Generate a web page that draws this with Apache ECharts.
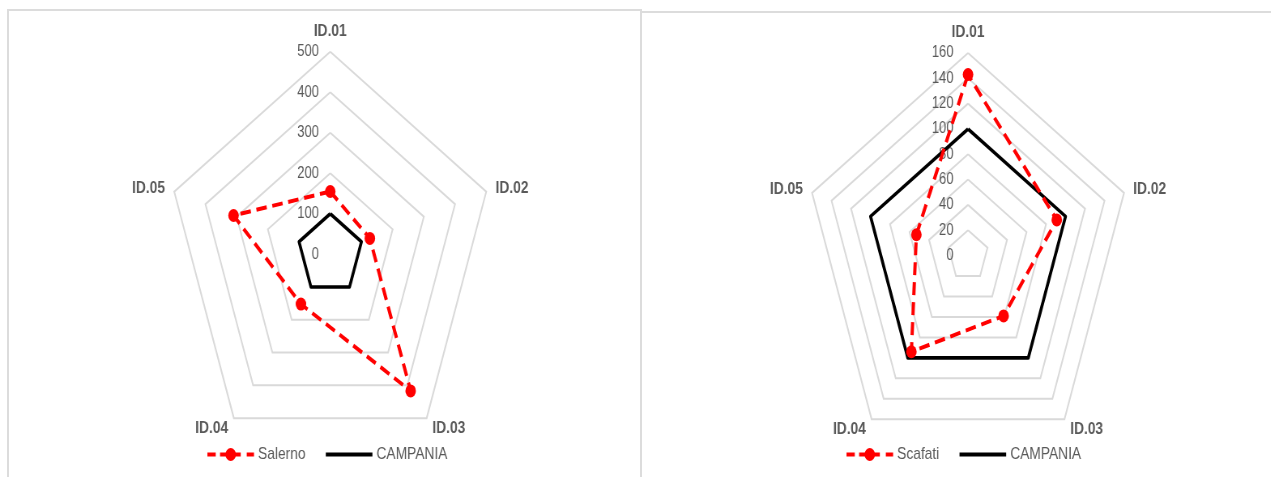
<!DOCTYPE html>
<html>
<head>
<meta charset="utf-8">
<script src="https://cdn.jsdelivr.net/npm/echarts@6/dist/echarts.min.js"></script>
<style>
  html, body { margin: 0; padding: 0; background: #fff; overflow: hidden; }
  #wrap { position: relative; width: 1271px; height: 477px; overflow: hidden; }
  .panel { position: absolute; border: 2px solid #dcdcdc; box-sizing: border-box; }
  /* the radar plates are drawn wide, then condensed horizontally */
  #chart { position: absolute; left: 0; top: 0; width: 1569px; height: 477px;
           transform: scaleX(0.81); transform-origin: 0 0; }
</style>
</head>
<body>
<div id="wrap">
  <div class="panel" style="left:7px;top:9px;width:635px;height:490px;"></div>
  <div class="panel" style="left:640px;top:11px;width:650px;height:490px;"></div>
  <div id="chart"></div>
</div>
<script>
// Indicator categories and values
const categories = ['ID.01', 'ID.02', 'ID.03', 'ID.04', 'ID.05'];
const salerno  = [155, 127, 417, 152, 310];
const scafati  = [143, 91, 59, 94, 53];
const campania = [100, 100, 100, 100, 100];

// Radial scales
const leftMax = 500,  leftStep = 100;
const rightMax = 160, rightStep = 20;

// ECharts lays indicators out counter-clockwise; walk them clockwise instead
const order = [0, 4, 3, 2, 1];
const cw = arr => order.map(i => arr[i]);

const FONT = 'Liberation Sans';
const GREY = '#595959';
const RED = '#ff0000';

function radarBox(center, max, step, labelMargin) {
  return {
    center: center,
    radius: 202.5,
    startAngle: 90,
    shape: 'polygon',
    splitNumber: max / step,
    indicator: order.map((i, k) => k === 0
      ? { name: categories[i], min: 0, max: max }
      : { name: categories[i], min: 0, max: max, axisLabel: { show: false } }),
    axisName: { color: GREY, fontWeight: 'bold', fontSize: 17, fontFamily: FONT },
    nameGap: 12,
    axisLine: { show: false },
    axisTick: { show: false },
    splitArea: { show: false },
    splitLine: { lineStyle: { color: '#d9d9d9', width: 2 } },
    axisLabel: { show: true, color: GREY, fontSize: 16, fontFamily: FONT,
                 margin: labelMargin, showMinLabel: true, showMaxLabel: true }
  };
}

// legend glyphs: dashed line with a dot, and a plain bar
const dashIcon = 'path://M0,4h10.3v4h-10.3z M15.6,4h7.4v4h-7.4z M34.6,4h6.6v4h-6.6z ' +
                 'M48.6,4h9v4h-9z M22.3,6a6.5,6.5 0 1,1 13,0a6.5,6.5 0 1,1 -13,0z';
const barIcon = 'path://M0,0h57.6v3.8h-57.6z';

function legendBox(left, name) {
  return {
    left: left, top: 441,
    orient: 'horizontal',
    itemWidth: 57.6, itemHeight: 13, itemGap: 25,
    textStyle: { color: GREY, fontSize: 17, fontFamily: FONT },
    selectedMode: false,
    data: [
      { name: name, icon: dashIcon, itemStyle: { color: RED, borderWidth: 0 } },
      { name: 'CAMPANIA', icon: barIcon, itemStyle: { color: '#000', borderWidth: 0 } }
    ]
  };
}

function seriesFor(radarIndex, name, values) {
  return {
    type: 'radar',
    radarIndex: radarIndex,
    data: [
      { name: 'CAMPANIA', value: cw(campania), symbol: 'none',
        lineStyle: { color: '#000', width: 3.6, type: 'solid' },
        itemStyle: { color: '#000' } },
      { name: name, value: cw(values), symbol: 'circle', symbolSize: 13,
        lineStyle: { color: RED, width: 4, type: [13, 7] },
        itemStyle: { color: RED } }
    ]
  };
}

const chart = echarts.init(document.getElementById('chart'));
chart.setOption({
  animation: false,
  radar: [
    radarBox([407.7, 254.3], leftMax, leftStep, 14),
    radarBox([1195.1, 255.5], rightMax, rightStep, 18)
  ],
  legend: [ legendBox(251, 'Salerno'), legendBox(1040, 'Scafati') ],
  series: [
    seriesFor(0, 'Salerno', salerno),
    seriesFor(1, 'Scafati', scafati)
  ]
});
</script>
</body>
</html>
